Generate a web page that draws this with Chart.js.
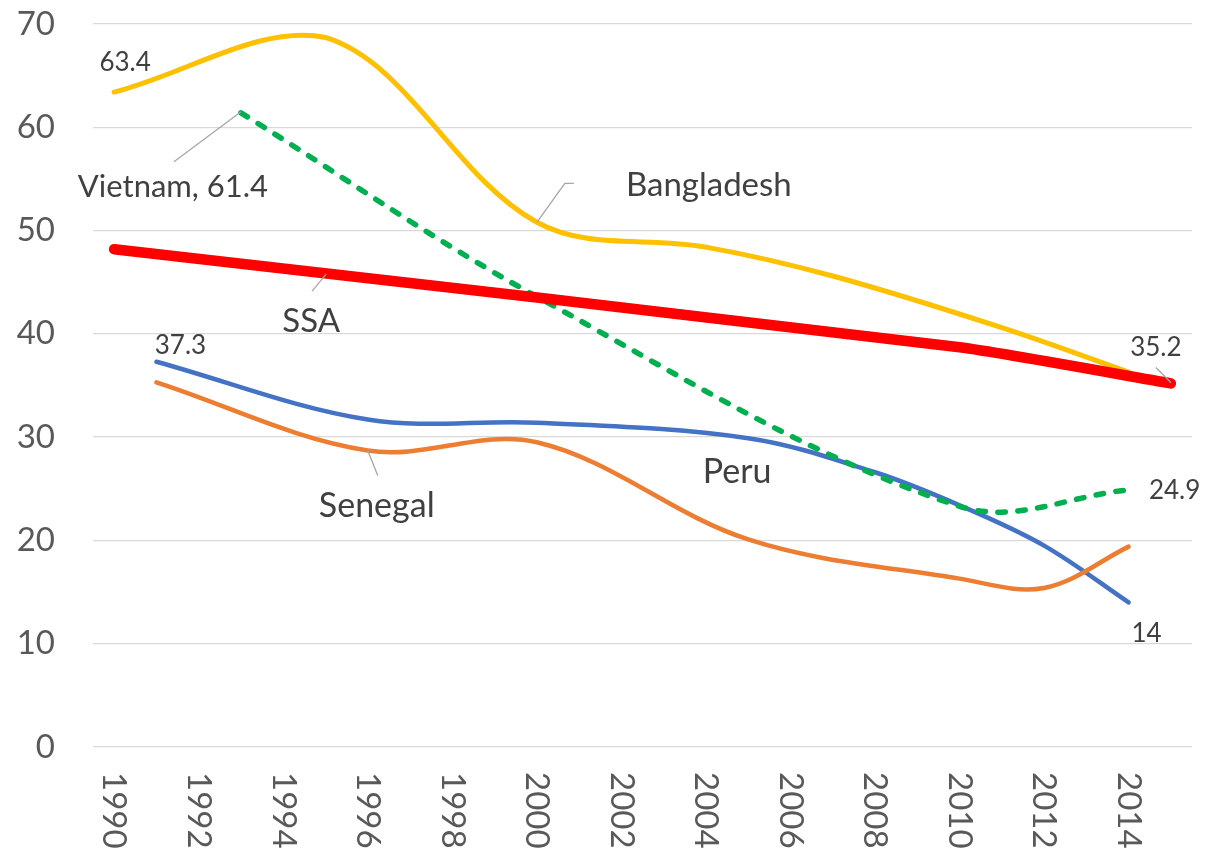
<!DOCTYPE html>
<html>
<head>
<meta charset="utf-8">
<script src="https://cdn.jsdelivr.net/npm/chart.js@4.4.0/dist/chart.umd.min.js"></script>
<style>
html, body { margin: 0; padding: 0; background: #fff; }
#wrap { width: 1205px; height: 856px; position: relative; }
</style>
</head>
<body>
<div id="wrap"><canvas id="chart"></canvas></div>
<script>
const years = ['1990','1991','1992','1993','1994','1995','1996','1997','1998','1999','2000','2001','2002',
               '2003','2004','2005','2006','2007','2008','2009','2010','2011','2012','2013','2014','2015'];

// one value per year, null where the series has no observation
const ssa        = [48.2, null, null, null, null, null, null, null, null, null, null, null, null,
                    null, null, null, null, null, null, null, 38.7, null, null, null, null, 35.2];
const bangladesh = [63.4, null, null, null, null, 68.7, null, null, null, null, 50.8, null, null,
                    null, 48.4, null, null, 45.6, null, null, null, 40.6, null, null, 36.3, null];
const vietnam    = [null, null, null, 61.4, null, null, null, null, null, null, 43.6, null, null,
                    null, null, null, null, null, null, null, 23.3, null, null, null, 24.9, null];
const senegal    = [null, 35.3, null, null, null, null, 28.7, null, null, null, 29.5, null, null,
                    null, null, 20.1, null, null, null, null, 16.3, null, 15.4, null, 19.4, null];
const peru       = [null, 37.3, null, null, null, null, 31.7, null, null, null, 31.4, null, null,
                    null, null, 29.9, null, null, 26.6, null, 23.4, null, 19.5, null, 14, null];

const yTicks = [0, 10, 20, 30, 40, 50, 60, 70];

const series = {
  SSA:        { data: ssa,        color: '#FF0000', width: 10.5, tension: 0.2 },
  Bangladesh: { data: bangladesh, color: '#FFC000', width: 5 },
  Vietnam:    { data: vietnam,    color: '#00B050', width: 5.5, dash: [7.5, 12.5] },
  Senegal:    { data: senegal,    color: '#ED7D31', width: 4.5 },
  Peru:       { data: peru,       color: '#4472C4', width: 4.5 }
};

// text notes placed next to a data point (offsets in px from that point)
const notes = [
  { s: 'Bangladesh', i: 0,  text: v => String(v),            dx: 11,  dy: -30, size: 26 },
  { s: 'Vietnam',    i: 3,  text: v => 'Vietnam, ' + v,      dx: -68, dy: 74,  size: 31, leader: [[0, -1], [-67, 49]] },
  { s: 'Bangladesh', i: 10, text: () => 'Bangladesh',        dx: 172, dy: -37, size: 33, leader: [[0, 0], [28, -39], [37, -39]] },
  { s: 'SSA',        i: 0,  text: () => 'SSA',               dx: 197, dy: 72,  size: 33, leader: [[212, 25], [198, 42]] },
  { s: 'Peru',       i: 1,  text: v => String(v),            dx: 24,  dy: -16, size: 26 },
  { s: 'Senegal',    i: 6,  text: () => 'Senegal',           dx: 9,   dy: 55,  size: 34, leader: [[0, 0], [10, 25]] },
  { s: 'Peru',       i: 15, text: () => 'Peru',              dx: -11, dy: 34,  size: 34 },
  { s: 'SSA',        i: 25, text: v => String(v),            dx: -15, dy: -36, size: 26, leader: [[-15, -16], [0, -1]] },
  { s: 'Vietnam',    i: 24, text: v => String(v),            dx: 46,  dy: 1,   size: 26 },
  { s: 'Peru',       i: 24, text: v => String(v),            dx: 18,  dy: 31,  size: 26 }
];

const notesPlugin = {
  id: 'notes',
  afterDatasetsDraw(chart) {
    const ctx = chart.ctx;
    const xs = chart.scales.x, ys = chart.scales.y;
    ctx.save();

    // year labels, turned clockwise like the original
    ctx.fillStyle = '#595959';
    ctx.font = '33px Lato';
    ctx.textAlign = 'left';
    ctx.textBaseline = 'middle';
    years.forEach((y, i) => {
      if (i % 2) return;
      ctx.save();
      ctx.translate(xs.getPixelForValue(i), ys.bottom + 25);
      ctx.rotate(Math.PI / 2);
      ctx.fillText(y, 0, 0);
      ctx.restore();
    });

    notes.forEach(n => {
      const v = series[n.s].data[n.i];
      const px = xs.getPixelForValue(n.i);
      const py = ys.getPixelForValue(v);
      if (n.leader) {
        ctx.strokeStyle = '#A6A6A6';
        ctx.lineWidth = 1.3;
        ctx.beginPath();
        n.leader.forEach((p, k) => {
          if (k === 0) ctx.moveTo(px + p[0], py + p[1]);
          else ctx.lineTo(px + p[0], py + p[1]);
        });
        ctx.stroke();
      }
      ctx.fillStyle = '#404040';
      ctx.font = n.size + 'px Lato';
      ctx.textAlign = 'center';
      ctx.textBaseline = 'middle';
      ctx.fillText(n.text(v), px + n.dx, py + n.dy);
    });
    ctx.restore();
  }
};

const datasets = Object.keys(series).map(name => {
  const s = series[name];
  return {
    label: name,
    data: s.data,
    borderColor: s.color,
    backgroundColor: s.color,
    borderWidth: s.width,
    borderDash: s.dash || [],
    borderCapStyle: 'round',
    borderJoinStyle: 'round',
    pointRadius: 0,
    pointHoverRadius: 0,
    tension: s.tension !== undefined ? s.tension : 0.35,
    spanGaps: true,
    fill: false
  };
});

new Chart(document.getElementById('chart'), {
  type: 'line',
  data: { labels: years, datasets },
  options: {
    responsive: true,
    maintainAspectRatio: false,
    animation: false,
    layout: { padding: { top: 24, right: 13, bottom: 0, left: 0 } },
    plugins: { legend: { display: false }, tooltip: { enabled: false } },
    scales: {
      x: {
        offset: true,
        grid: { display: false },
        border: { display: false },
        ticks: { display: false },
        afterFit(scale) { scale.height = 109; scale.paddingLeft = 0; scale.paddingRight = 0; }
      },
      y: {
        min: 0,
        max: 70,
        afterBuildTicks(scale) { scale.ticks = yTicks.map(v => ({ value: v })); },
        grid: { color: '#D9D9D9', lineWidth: 1.3, drawTicks: false },
        border: { display: false },
        ticks: { color: '#595959', font: { family: 'Lato', size: 33 }, padding: 38 },
        afterFit(scale) { scale.width = 93; scale.paddingTop = 0; scale.paddingBottom = 0; }
      }
    }
  },
  plugins: [notesPlugin]
});
</script>
</body>
</html>
